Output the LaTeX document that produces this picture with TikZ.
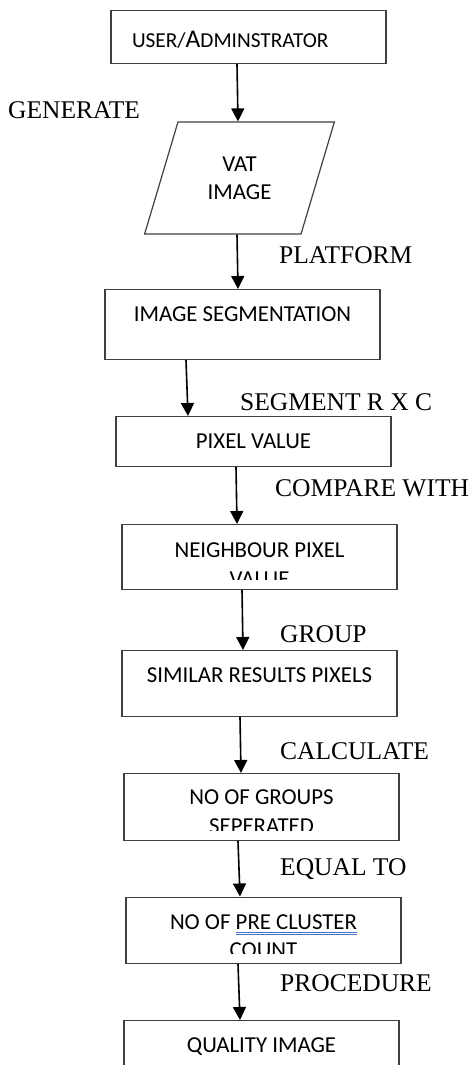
\documentclass[tikz,border=0pt]{standalone}
\usepackage{fontspec}
\setmainfont{Liberation Serif}
\newfontfamily\boxfont{Carlito}
\usetikzlibrary{arrows.meta,shapes.geometric}
\definecolor{spellblue}{RGB}{68,114,196}
\newsavebox{\ulbox}
\newcommand{\dblul}[1]{\sbox{\ulbox}{#1}%
	\rlap{\textcolor{spellblue}{\rule[-3.1pt]{\wd\ulbox}{0.8pt}}}%
	\rlap{\textcolor{spellblue}{\rule[-5.4pt]{\wd\ulbox}{0.8pt}}}%
	\usebox{\ulbox}}

\begin{document}
\begin{tikzpicture}[x=1pt,y=-1pt,
box/.style={draw=black!75, line width=1.2pt, minimum width=275pt, inner sep=0pt,
	anchor=north, text height=32pt, font=\boxfont\fontsize{22.8}{28}\selectfont},
io/.style={draw=black!75, line width=1.2pt, trapezium, trapezium left angle=68,
	trapezium right angle=112, trapezium stretches=true, minimum width=191pt,
	minimum height=112pt, inner sep=0pt, align=center,
	font=\boxfont\fontsize{22.8}{28}\selectfont},
cutline/.style={anchor=base, inner sep=0pt, font=\boxfont\fontsize{22.8}{28}\selectfont},
tag/.style={anchor=base west, inner sep=0pt, font=\fontsize{25.5}{30}\selectfont},
arr/.style={-{Triangle[length=13pt,width=13pt]}, line width=1.6pt},
]
	\useasboundingbox (0,0) rectangle (472,1065);

	% boxes, top to bottom
	\node[box, text height=37pt, text depth=16pt, text width=233pt, align=left] (user) at (248.5,10)
		{{\fontsize{21.3}{28}\selectfont USER/}{\fontsize{25.5}{28}\selectfont A}{\fontsize{21.3}{28}\selectfont DMINSTRATOR}};
	\node[io] (vat) at (239.5,178) {VAT\\IMAGE};
	\node[box, text depth=38pt] (seg) at (242.5,289) {IMAGE SEGMENTATION};
	\node[box, text depth=18pt] (pix) at (253.5,416) {PIXEL VALUE};
	\node[box, text height=33pt, text depth=32pt] (nbr) at (259.5,524) {NEIGHBOUR PIXEL};
	\node[box, text depth=34pt] (sim) at (259.5,650) {SIMILAR RESULTS PIXELS};
	\node[box, text height=31pt, text depth=36pt] (grp) at (261.5,773) {NO OF GROUPS};
	\node[box, text height=32.5pt, text depth=34pt] (pre) at (263.5,896.5) {NO OF \dblul{PRE CLUSTER}};
	\node[box, text depth=40pt] (qual) at (261.5,1020) {QUALITY IMAGE};

	% second lines hidden by the box margin
	\begin{scope}
		\clip ([yshift=11pt]nbr.south west) rectangle ([yshift=30pt]nbr.south east);
		\node[cutline] (nbr2) at ([yshift=4pt]nbr.south) {VALUE};
	\end{scope}
	\begin{scope}
		\clip ([yshift=11pt]grp.south west) rectangle ([yshift=30pt]grp.south east);
		\node[cutline] (grp2) at ([yshift=7.5pt]grp.south) {SEPERATED};
	\end{scope}
	\begin{scope}
		\clip ([yshift=11pt]pre.south west) rectangle ([yshift=30pt]pre.south east);
		\node[cutline] (pre2) at ([yshift=7pt]pre.south) {COUNT};
	\end{scope}

	% arrows
	\draw[arr] ([xshift=-11.5pt]user.south) -- ([xshift=-10.5pt]user.south |- vat.top left corner);
	\draw[arr] ([xshift=-5.5pt]seg.north |- vat.bottom left corner) -- ([xshift=-4.5pt]seg.north);
	\draw[arr] ([xshift=-56.5pt]seg.south) -- ([xshift=-65.5pt]pix.north);
	\draw[arr] ([xshift=-17.5pt]pix.south) -- ([xshift=-22.5pt]nbr.north);
	\draw[arr] ([xshift=-17.5pt]nbr.south) -- ([xshift=-16.5pt]sim.north);
	\draw[arr] ([xshift=-19.5pt]sim.south) -- ([xshift=-20.5pt]grp.north);
	\draw[arr] ([xshift=-23.5pt]grp.south) -- ([xshift=-23.5pt]pre.north);
	\draw[arr] ([xshift=-25.5pt]pre.south) -- ([xshift=-21.5pt]qual.north);

	% step labels
	\node[tag] (generate) at (8,118) {GENERATE};
	\node[tag] (platform) at (279,263.5) {PLATFORM};
	\node[tag] (segment) at (240,410) {SEGMENT R X C};
	\node[tag] (compare) at (275,496.5) {COMPARE WITH};
	\node[tag] (group) at (280,642) {GROUP};
	\node[tag] (calculate) at (280,759) {CALCULATE};
	\node[tag] (equal) at (280,875) {EQUAL TO};
	\node[tag] (procedure) at (280,991.5) {PROCEDURE};
\end{tikzpicture}
\end{document}
